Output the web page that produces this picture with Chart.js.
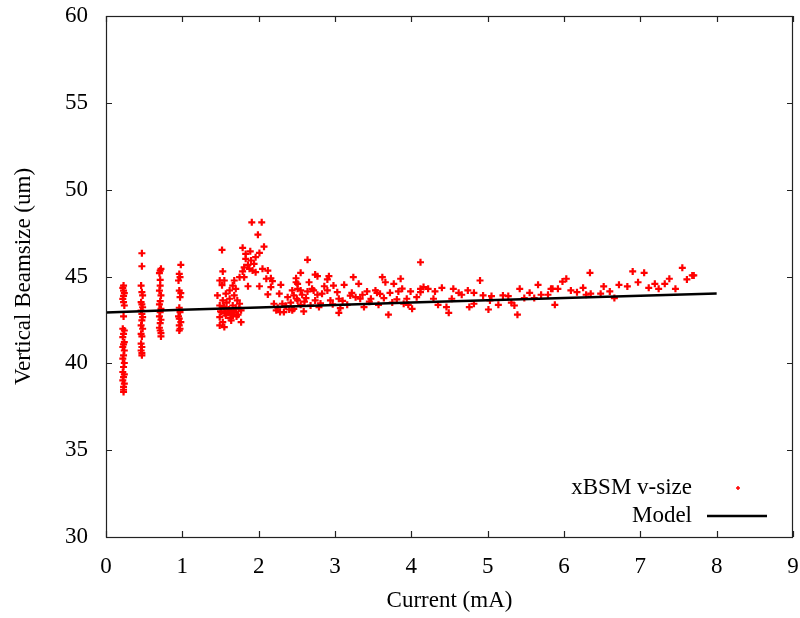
<!DOCTYPE html>
<html>
<head>
<meta charset="utf-8">
<script src="https://cdn.jsdelivr.net/npm/chart.js@4"></script>
<style>
  body { margin: 0; background: #fff; }
  canvas { display: block; }
</style>
</head>
<body>
<canvas id="beamChart" width="800" height="618"></canvas>
<script>
// xBSM measured vertical beam size vs current
var xbsmCurrent = [
  0.23,0.22,0.23,0.24,0.23,0.22,0.23,0.24,0.23,0.22,0.24,0.23,0.22,0.24,0.23,0.22,0.24,0.23,0.22,0.24,0.23,0.22,0.24,0.23,0.22,0.24,0.23,0.23,0.23,
  0.47,0.47,0.46,0.47,0.48,0.46,0.47,0.48,0.46,0.47,0.48,0.47,0.46,0.48,0.46,0.47,0.46,0.47,0.46,0.47,0.47,
  0.72,0.71,0.70,0.71,0.71,0.70,0.72,0.71,0.70,0.72,0.71,0.70,0.72,0.71,0.70,0.71,0.72,0.72,
  0.98,0.96,0.97,0.95,0.96,0.98,0.97,0.96,0.97,0.95,0.96,0.98,0.96,0.97,0.96,
  1.91,2.04,1.99,1.52,1.79,2.07,1.89,1.83,2.01,1.96,1.83,1.90,1.86,1.94,1.81,1.88,1.92,1.79,1.96,2.05,2.12,1.53,1.75,1.81,2.10,2.16,1.49,1.55,1.68,2.18,
  1.66,1.86,2.01,2.16,2.29,2.49,1.62,1.70,1.46,1.57,1.68,2.12,2.27,2.44,2.51,1.53,1.62,1.72,2.38,2.46,1.49,1.55,1.66,1.75,2.20,2.31,2.42,2.51,
  1.51,1.59,1.68,1.77,2.23,2.33,2.44,1.49,1.57,1.66,1.77,1.53,1.49,1.55,1.64,
  1.50,1.56,1.61,1.63,1.70,1.73,1.58,1.52,1.60,1.67,1.74,1.54,1.65,1.71,2.25,2.35,2.40,2.28,
  2.64,2.55,2.49,2.51,2.74,2.77,2.66,2.90,2.92,3.24,3.31,3.62,3.66,3.86,3.77,4.12,2.70,2.86,3.12,2.98,
  2.55,2.57,2.64,2.77,2.83,2.90,3.03,3.22,3.42,3.53,3.55,3.72,3.83,3.99,4.12,2.50,2.62,2.74,2.94,3.05,
  3.27,3.33,3.47,3.64,3.81,3.94,4.07,2.55,2.68,2.79,3.07,3.16,3.38,3.57,3.90,3.96,2.59,3.05,3.70,4.01,2.46,
  4.16,4.22,4.31,4.40,4.55,4.90,4.62,4.66,4.74,4.82,4.94,5.05,5.20,5.27,5.42,5.55,5.66,5.70,5.83,5.79,
  4.12,4.29,4.53,4.35,4.46,4.49,4.76,4.82,5.03,5.14,5.01,5.31,5.35,5.39,5.48,5.61,5.88,
  6.34,6.90,7.05,7.55,7.68,7.61,6.03,5.98,6.97,7.19,7.38,7.32,5.92,5.85,6.09,6.17,6.25,6.52,6.72,6.83,
  7.11,7.24,7.46,6.35,6.48,6.60,6.29,6.66,7.70,
  2.36,2.60,2.81,3.10,3.20,3.45,3.59,3.75,3.88,2.72,2.97,3.36
];
var xbsmSize = [
  44.48,44.35,44.19,44.04,43.89,43.71,43.52,43.33,42.70,41.99,41.89,41.70,41.51,41.22,41.09,40.94,40.74,40.46,40.27,40.02,39.79,39.50,39.36,39.21,39.02,38.83,38.64,38.48,38.35,
  46.34,45.59,44.48,44.10,43.91,43.52,43.39,43.23,43.04,42.85,42.66,42.47,42.18,41.99,41.70,41.55,41.13,40.94,40.74,40.59,40.46,
  45.44,45.34,45.19,44.81,44.48,44.19,43.91,43.58,43.39,43.14,42.95,42.70,42.51,42.32,42.05,41.89,41.74,41.55,
  45.67,45.15,44.96,44.77,44.19,44.04,43.81,43.20,42.95,42.70,42.57,42.37,42.18,41.99,41.89,
  48.12,48.12,47.41,46.53,46.65,46.72,46.45,46.30,46.36,46.11,46.02,45.92,45.67,45.73,45.53,45.44,45.34,45.29,45.25,45.44,45.34,45.29,44.96,44.96,44.87,44.90,44.77,44.77,44.77,44.73,
  44.48,44.44,44.44,44.39,44.52,44.67,44.20,44.29,43.91,44.01,43.91,43.97,44.01,44.20,44.29,43.62,43.72,43.62,43.81,43.91,43.33,43.24,43.33,43.43,43.43,43.43,43.49,43.62,
  42.95,42.99,42.95,43.05,43.05,42.95,43.05,42.66,42.76,42.76,42.37,42.37,42.18,42.09,42.47,
  43.00,42.90,43.10,42.60,43.20,42.80,43.50,44.50,42.95,43.05,43.15,43.25,42.85,42.70,43.20,43.30,43.10,42.95,
  45.96,45.21,44.90,44.58,45.11,45.02,44.67,44.83,45.02,44.96,44.58,44.96,44.67,44.87,44.58,45.82,44.29,44.44,44.52,44.48,
  44.20,43.95,44.14,43.95,44.01,44.20,44.10,44.06,44.14,44.20,44.06,44.06,44.14,44.14,44.29,43.72,43.76,43.62,43.62,43.72,
  43.81,43.72,43.72,43.76,43.68,43.72,43.81,43.37,43.33,43.24,43.18,43.37,43.24,43.37,43.43,43.37,42.99,42.91,42.80,43.14,43.14,
  44.39,44.29,44.14,44.35,44.29,44.77,44.06,43.95,44.20,44.06,43.91,43.87,43.91,43.87,44.29,44.06,44.52,43.95,44.29,43.95,
  44.10,43.72,43.72,43.37,43.24,42.91,43.24,43.43,43.62,43.37,43.10,43.49,43.33,42.80,43.76,43.76,43.37,
  45.21,45.29,45.21,45.50,45.06,44.83,44.87,44.71,44.67,44.58,44.87,44.58,44.29,44.29,44.20,44.10,44.35,44.43,44.52,44.43,
  44.35,44.29,44.29,44.01,44.01,44.14,43.95,43.76,45.06,
  43.30,43.55,43.45,43.60,43.90,43.55,44.00,43.50,44.30,44.20,43.40,43.95
];

// model curve
var modelCurrent = [0, 1, 2, 3, 4, 5, 6, 7, 8];
var modelSize = [42.93, 43.08, 43.22, 43.36, 43.50, 43.63, 43.76, 43.89, 44.02];

var xTicks = [0, 1, 2, 3, 4, 5, 6, 7, 8, 9];
var yTicks = [30, 35, 40, 45, 50, 55, 60];

var legendNames = ["xBSM v-size", "Model"];

var serif = "'Liberation Serif', 'DejaVu Serif', serif";

function toPoints(xs, ys) {
    var pts = [];
    for (var i = 0; i < xs.length; i++) {
        pts.push({ x: xs[i], y: ys[i] });
    }
    return pts;
}

// box round the plot, ticks pointing inward on all sides, legend in the corner
var frameAndLegend = {
    id: 'frameAndLegend',
    afterDatasetsDraw: function (chart) {
        var ctx = chart.ctx;
        var a = chart.chartArea;
        var sx = chart.scales.x, sy = chart.scales.y;
        var tick = 6;
        ctx.save();
        ctx.strokeStyle = '#222';
        ctx.lineWidth = 1.2;
        ctx.strokeRect(a.left + 0.5, a.top + 0.5, a.right - a.left - 1, a.bottom - a.top);
        ctx.beginPath();
        xTicks.forEach(function (v) {
            var px = Math.round(sx.getPixelForValue(v)) + 0.5;
            ctx.moveTo(px, a.bottom); ctx.lineTo(px, a.bottom - tick);
            ctx.moveTo(px, a.top); ctx.lineTo(px, a.top + tick);
        });
        yTicks.forEach(function (v) {
            var py = Math.round(sy.getPixelForValue(v)) + 0.5;
            ctx.moveTo(a.left, py); ctx.lineTo(a.left + tick, py);
            ctx.moveTo(a.right, py); ctx.lineTo(a.right - tick, py);
        });
        ctx.stroke();

        // legend
        var textRight = a.right - 101;
        var row1 = a.bottom - 49, row2 = a.bottom - 21;
        ctx.fillStyle = '#000';
        ctx.font = '23px ' + serif;
        ctx.textAlign = 'right';
        ctx.textBaseline = 'middle';
        ctx.fillText(legendNames[0], textRight, row1);
        ctx.fillText(legendNames[1], textRight, row2);
        // sample marker
        var mx = a.right - 55;
        ctx.strokeStyle = '#ff0000';
        ctx.lineWidth = 1.5;
        ctx.beginPath();
        ctx.moveTo(mx - 2, row1); ctx.lineTo(mx + 2, row1);
        ctx.moveTo(mx, row1 - 2); ctx.lineTo(mx, row1 + 2);
        ctx.stroke();
        // sample line
        ctx.strokeStyle = '#000';
        ctx.lineWidth = 2.5;
        ctx.beginPath();
        ctx.moveTo(a.right - 86, row2); ctx.lineTo(a.right - 26, row2);
        ctx.stroke();
        ctx.restore();
    }
};

var ctx = document.getElementById('beamChart').getContext('2d');
var beamChart = new Chart(ctx, {
    type: 'scatter',
    data: {
        datasets: [{
            label: legendNames[1],
            data: toPoints(modelCurrent, modelSize),
            showLine: true,
            borderColor: '#000',
            borderWidth: 2.5,
            pointRadius: 0,
            tension: 0,
            order: 0
        }, {
            label: legendNames[0],
            data: toPoints(xbsmCurrent, xbsmSize),
            pointStyle: 'cross',
            pointRadius: 3.5,
            borderWidth: 2.2,
            borderColor: '#ff0000',
            backgroundColor: '#ff0000',
            order: 1
        }]
    },
    options: {
        responsive: false,
        animation: false,
        layout: { padding: { left: 0, right: 7, top: 16, bottom: 0 } },
        plugins: {
            legend: { display: false },
            tooltip: { enabled: false }
        },
        scales: {
            x: {
                type: 'linear',
                min: 0,
                max: 9,
                afterBuildTicks: function (axis) {
                    axis.ticks = xTicks.map(function (v) { return { value: v }; });
                },
                afterFit: function (axis) {
                    axis.height = 81;
                    axis.paddingLeft = 0;
                    axis.paddingRight = 0;
                },
                grid: { display: false, drawTicks: false },
                border: { display: false },
                ticks: {
                    padding: 16,
                    color: '#000',
                    font: { family: serif, size: 23 }
                },
                title: {
                    display: true,
                    text: 'Current (mA)',
                    color: '#000',
                    font: { family: serif, size: 23 },
                    padding: { top: 0, bottom: 3 }
                }
            },
            y: {
                type: 'linear',
                min: 30,
                max: 60,
                afterBuildTicks: function (axis) {
                    axis.ticks = yTicks.map(function (v) { return { value: v }; });
                },
                afterFit: function (axis) {
                    axis.width = 106;
                    axis.paddingTop = 0;
                    axis.paddingBottom = 0;
                },
                grid: { display: false, drawTicks: false },
                border: { display: false },
                ticks: {
                    padding: 18,
                    color: '#000',
                    font: { family: serif, size: 23 }
                },
                title: {
                    display: true,
                    text: 'Vertical Beamsize (um)',
                    color: '#000',
                    font: { family: serif, size: 23 },
                    padding: { top: 10, bottom: 0 }
                }
            }
        }
    },
    plugins: [frameAndLegend]
});
</script>
</body>
</html>
